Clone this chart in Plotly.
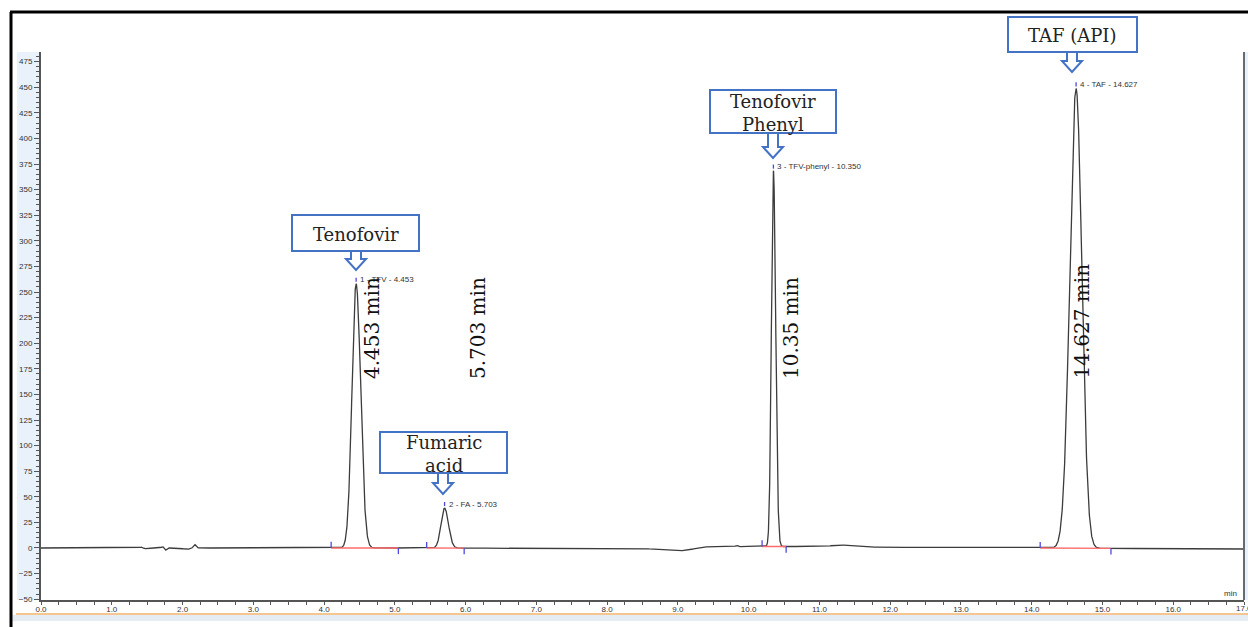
import numpy as np
import plotly.graph_objects as go

# ---- chromatogram data -------------------------------------------------
# main peaks: retention time (min), height above baseline (mAU), left/right sigma (min)
peak_names = ["TFV", "FA", "TFV-phenyl", "TAF"]
peak_rt = [4.453, 5.703, 10.350, 14.627]
peak_height = [258.0, 39.0, 367.0, 449.0]
peak_sigma_left = [0.058, 0.050, 0.028, 0.088]
peak_sigma_right = [0.064, 0.055, 0.032, 0.082]

# integration window of each peak (start, end) in min
integ_start = [4.10, 5.45, 10.19, 14.12]
integ_end = [5.05, 5.98, 10.53, 15.12]

# slow baseline drift anchors (min, mAU)
drift_t = [0.0, 5.0, 8.5, 9.0, 9.15, 9.35, 10.0, 11.0, 11.8, 12.5, 14.0, 17.0]
drift_v = [0.0, 0.0, -0.5, -2.8, -2.0, 1.0, 1.5, 1.4, 0.8, 0.3, 0.0, -1.0]

# small baseline disturbances: time (min), amplitude (mAU), width (min)
blip_t = [1.42, 1.47, 1.72, 1.76, 2.06, 2.17, 9.83, 11.30]
blip_a = [0.8, -0.6, 1.4, -2.2, -1.3, 3.6, 1.2, 1.8]
blip_w = [0.015, 0.02, 0.012, 0.015, 0.05, 0.018, 0.015, 0.12]

# callout labels
callout_text = ["Tenofovir", "Fumaric<br>acid", "Tenofovir<br>Phenyl", "TAF (API)"]
rt_text = ["4.453 min", "5.703 min", "10.35 min", "14.627 min"]

# time axis extent (min)
t_end = 17.0

# ---- build the detector trace -------------------------------------------
t = np.arange(0.0, t_end + 0.0005, 0.002)
signal = np.interp(t, drift_t, drift_v)
for bt, ba, bw in zip(blip_t, blip_a, blip_w):
    signal += ba * np.exp(-0.5 * ((t - bt) / bw) ** 2)
for rt, h, sl, sr in zip(peak_rt, peak_height, peak_sigma_left, peak_sigma_right):
    s = np.where(t < rt, sl, sr)
    signal += h * np.exp(-0.5 * ((t - rt) / s) ** 2)


def base_at(x):
    return float(np.interp(x, drift_t, drift_v))


def apex_at(i):
    return peak_height[i] + base_at(peak_rt[i])


# ---- page geometry (pixels -> paper) ------------------------------------
W, H = 1248, 627
L, R, T, B = 41, 1244, 52, 600


def px(x):
    return (x - L) / (R - L)


def py(y):
    return (B - y) / (B - T)


fig = go.Figure()
fig.add_trace(go.Scatter(x=t, y=signal, mode="lines",
                         line=dict(color="#3c3c3c", width=1.3),
                         hoverinfo="skip", showlegend=False))

shapes = []
# light panels round the plot
shapes.append(dict(type="rect", xref="paper", yref="paper", x0=px(17), x1=px(39),
                   y0=py(600), y1=py(52), fillcolor="#e9f1fb", line=dict(width=0), layer="below"))
shapes.append(dict(type="rect", xref="paper", yref="paper", x0=px(1245), x1=px(1249),
                   y0=py(600), y1=py(52), fillcolor="#e9f1fb", line=dict(width=0), layer="below"))
shapes.append(dict(type="rect", xref="paper", yref="paper", x0=px(12), x1=px(1249),
                   y0=py(621), y1=py(615), fillcolor="#e6ecf4", line=dict(width=0), layer="below"))
shapes.append(dict(type="line", xref="paper", yref="paper", x0=px(16), x1=px(1249),
                   y0=py(614), y1=py(614), line=dict(color="#f2b36b", width=1.5)))
# right border of the plot
shapes.append(dict(type="line", xref="paper", yref="paper", x0=px(1244), x1=px(1244),
                   y0=py(600), y1=py(52), line=dict(color="#6a6a6a", width=2)))
# outer black frame
shapes.append(dict(type="line", xref="paper", yref="paper", x0=px(11), x1=px(11),
                   y0=py(628), y1=py(12), line=dict(color="black", width=3)))
shapes.append(dict(type="line", xref="paper", yref="paper", x0=px(10), x1=px(1249),
                   y0=py(12), y1=py(12), line=dict(color="black", width=3)))

# integration baselines and start/end ticks
for s0, s1 in zip(integ_start, integ_end):
    b0, b1 = base_at(s0), base_at(s1)
    shapes.append(dict(type="line", xref="x", yref="y", x0=s0, x1=s1, y0=b0, y1=b1,
                       line=dict(color="#ff6b6b", width=1.4)))
    shapes.append(dict(type="line", xref="x", yref="y", x0=s0, x1=s0, y0=b0, y1=b0 + 6,
                       line=dict(color="#4a4adf", width=1.3)))
    shapes.append(dict(type="line", xref="x", yref="y", x0=s1, x1=s1, y0=b1, y1=b1 - 6,
                       line=dict(color="#4a4adf", width=1.3)))

# apex ticks
for i, rt in enumerate(peak_rt):
    a = apex_at(i)
    shapes.append(dict(type="line", xref="x", yref="y", x0=rt, x1=rt, y0=a + 2, y1=a + 6,
                       line=dict(color="#4a4adf", width=1.3)))

# callout boxes with hollow down arrows
boxes = [(292, 419, 215, 251, 356, 270),
         (380, 507, 432, 473, 443, 494),
         (710, 836, 90, 133, 773, 158),
         (1008, 1137, 17, 52, 1072, 72)]
blue = "#4472c4"
annotations = []
for (x0, x1, y0, y1, cx, tip), txt in zip(boxes, callout_text):
    pts = [(cx - 5, y1), (cx - 5, tip - 11), (cx - 10, tip - 11), (cx, tip),
           (cx + 10, tip - 11), (cx + 5, tip - 11), (cx + 5, y1)]
    path = "M " + " L ".join(f"{px(a):.5f},{py(b):.5f}" for a, b in pts) + " Z"
    shapes.append(dict(type="path", xref="paper", yref="paper", path=path,
                       fillcolor="white", line=dict(color=blue, width=2)))
    shapes.append(dict(type="rect", xref="paper", yref="paper", x0=px(x0), x1=px(x1),
                       y0=py(y1), y1=py(y0), fillcolor="white", line=dict(color=blue, width=2)))
    annotations.append(dict(xref="paper", yref="paper", x=px((x0 + x1) / 2), y=py((y0 + y1) / 2 + 1),
                            text=txt, showarrow=False, xanchor="center", yanchor="middle",
                            font=dict(family="DejaVu Serif", size=18, color="#222222")))

# peak identification labels
for i, (name, rt) in enumerate(zip(peak_names, peak_rt)):
    annotations.append(dict(xref="x", yref="y", x=rt, y=apex_at(i) + 4,
                            text=f"{i + 1} - {name} - {rt:.3f}", showarrow=False,
                            xanchor="left", yanchor="middle", xshift=2,
                            font=dict(family="Liberation Sans", size=8, color="#333333")))

# vertical retention-time labels
rt_x = [372, 478, 791, 1081]
for x, txt in zip(rt_x, rt_text):
    annotations.append(dict(xref="paper", yref="paper", x=px(x), y=py(381), text=txt,
                            textangle=-90, showarrow=False, xanchor="center", yanchor="bottom",
                            font=dict(family="DejaVu Serif", size=20, color="#111111")))

tick_font = dict(family="Liberation Sans", size=8, color="#333333")

# last time label sits on the page edge
annotations.append(dict(xref="x", yref="paper", x=t_end, y=py(608), text=f"{t_end:.1f}",
                        showarrow=False, xanchor="center", yanchor="middle", font=tick_font))

# axis unit
annotations.append(dict(xref="paper", yref="paper", x=px(1239), y=py(593), text="min",
                        showarrow=False, xanchor="right", yanchor="middle", font=tick_font))

fig.update_layout(
    width=W, height=H,
    margin=dict(l=L, r=W - R, t=T, b=H - B),
    paper_bgcolor="white", plot_bgcolor="white",
    showlegend=False, hovermode=False,
    shapes=shapes, annotations=annotations,
    xaxis=dict(range=[0, t_end], dtick=1, tick0=0, tickformat=".1f", showgrid=False,
               zeroline=False, showline=True, linecolor="#555555", linewidth=2,
               ticks="outside", ticklen=3, tickcolor="#555555", tickfont=tick_font,
               ticklabelstandoff=-3,
               minor=dict(dtick=0.25, tick0=0, ticks="outside", ticklen=3, tickcolor="#555555")),
    yaxis=dict(range=[-50.8, 484.4], dtick=25, tick0=0, showgrid=False, zeroline=False,
               showline=True, linecolor="#555555", linewidth=2,
               ticks="outside", ticklen=5, tickcolor="#555555", tickfont=tick_font,
               minor=dict(dtick=5, tick0=0, ticks="outside", ticklen=3, tickcolor="#555555")),
)

fig.write_html("out.html")
